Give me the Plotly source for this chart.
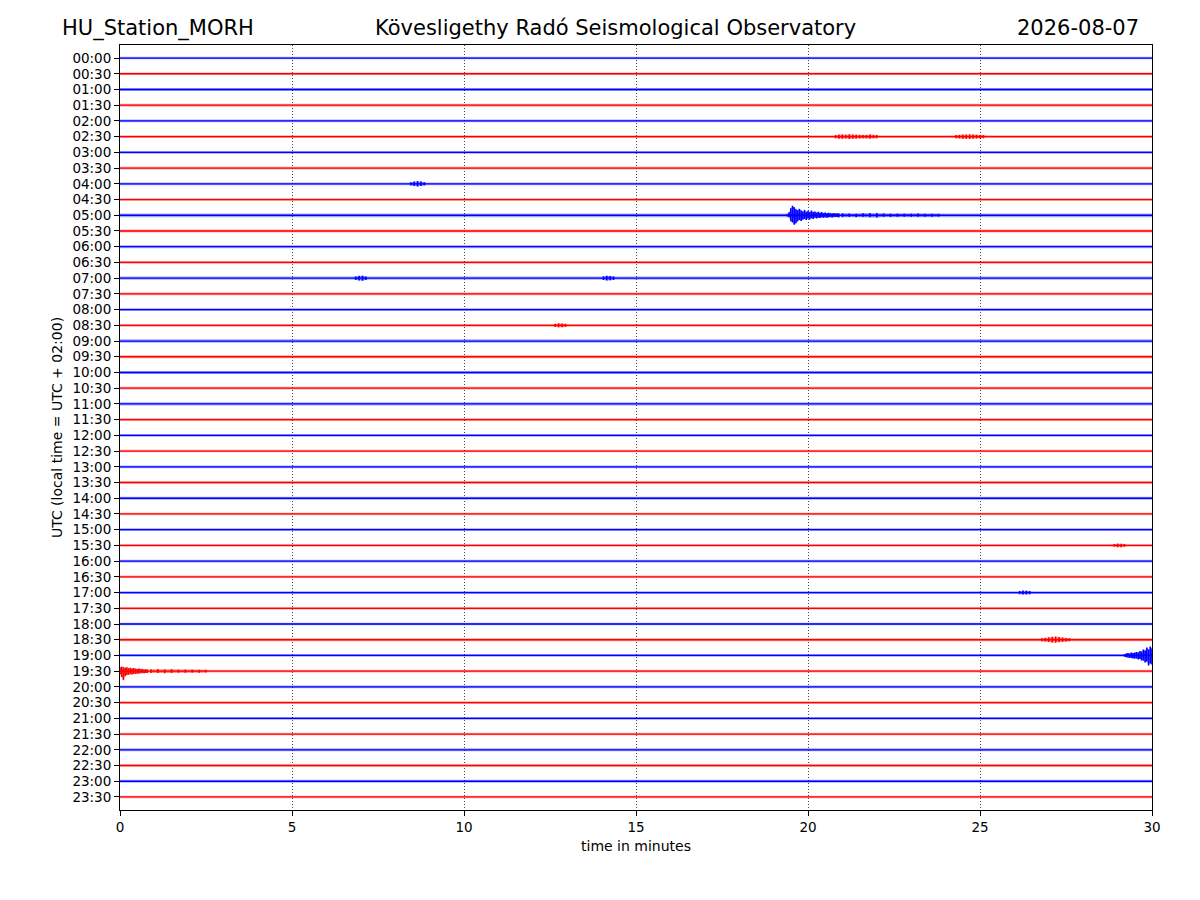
import plotly.graph_objects as go

# Helicorder of one day, 48 half-hour rows, 30 minutes per row
STATION = 'HU_Station_MORH'
OBSERVATORY = 'Kövesligethy Radó Seismological Observatory'
DAY = '2026-08-07'
ROW_MINUTES = 30
X_TICKS = [0, 5, 10, 15, 20, 25, 30]

ROW_LABELS = ['00:00', '00:30', '01:00', '01:30', '02:00', '02:30', '03:00', '03:30',
              '04:00', '04:30', '05:00', '05:30', '06:00', '06:30', '07:00', '07:30',
              '08:00', '08:30', '09:00', '09:30', '10:00', '10:30', '11:00', '11:30',
              '12:00', '12:30', '13:00', '13:30', '14:00', '14:30', '15:00', '15:30',
              '16:00', '16:30', '17:00', '17:30', '18:00', '18:30', '19:00', '19:30',
              '20:00', '20:30', '21:00', '21:30', '22:00', '22:30', '23:00', '23:30']

# background noise half-width of each row (in row spacings)
BASE_NOISE = [0.08, 0.08, 0.09, 0.09, 0.09, 0.09, 0.09, 0.09,
              0.09, 0.08, 0.12, 0.09, 0.10, 0.09, 0.10, 0.09,
              0.09, 0.09, 0.11, 0.10, 0.09, 0.09, 0.10, 0.09,
              0.09, 0.08, 0.09, 0.08, 0.09, 0.08, 0.09, 0.08,
              0.08, 0.08, 0.09, 0.08, 0.08, 0.09, 0.09, 0.09,
              0.09, 0.08, 0.09, 0.08, 0.09, 0.08, 0.09, 0.08]

# event peak amplitudes above / below the row (row spacings)
EV_0500_A_UP = [0.08, 0.19, 0.45, 0.60, 0.51, 0.38, 0.32, 0.41, 0.30, 0.24, 0.34, 0.22,
                0.28, 0.20, 0.30, 0.20, 0.24, 0.17, 0.23, 0.16, 0.20, 0.14, 0.17, 0.13,
                0.16, 0.13, 0.11, 0.14, 0.11, 0.13, 0.11]
EV_0500_A_DN = [0.08, 0.13, 0.38, 0.45, 0.60, 0.51, 0.38, 0.30, 0.36, 0.27, 0.23, 0.30,
                0.20, 0.27, 0.19, 0.23, 0.16, 0.20, 0.16, 0.17, 0.13, 0.16, 0.13, 0.16,
                0.13, 0.11, 0.14, 0.11, 0.11, 0.11, 0.12]
EV_0500_B_UP = [0.13, 0.11, 0.10, 0.13, 0.14, 0.15, 0.12, 0.10, 0.11, 0.10, 0.09, 0.11,
                0.09, 0.10, 0.09]
EV_0500_B_DN = [0.12, 0.10, 0.12, 0.10, 0.13, 0.14, 0.10, 0.11, 0.10, 0.09, 0.10, 0.09,
                0.10, 0.09, 0.09]

EV_1930_A_UP = [0.25, 0.29, 0.25, 0.22, 0.25, 0.19, 0.22, 0.17, 0.20, 0.16, 0.14, 0.17,
                0.13, 0.14, 0.11, 0.13, 0.11]
EV_1930_A_DN = [0.19, 0.38, 0.57, 0.32, 0.25, 0.23, 0.18, 0.21, 0.17, 0.17, 0.16, 0.14,
                0.13, 0.11, 0.13, 0.11, 0.11]
EV_1930_B_UP = [0.13, 0.14, 0.11, 0.13, 0.10, 0.11, 0.10, 0.09, 0.09]
EV_1930_B_DN = [0.12, 0.11, 0.13, 0.11, 0.10, 0.10, 0.09, 0.10, 0.09]

EV_1900_UP = [0.08, 0.13, 0.16, 0.13, 0.19, 0.16, 0.19, 0.22, 0.19, 0.29, 0.25, 0.38,
              0.32, 0.51, 0.38, 0.57, 0.45]
EV_1900_DN = [0.08, 0.11, 0.13, 0.16, 0.16, 0.19, 0.19, 0.19, 0.25, 0.22, 0.32, 0.32,
              0.45, 0.38, 0.64, 0.51, 0.57]

EV_1830_UP = [0.10, 0.12, 0.16, 0.19, 0.20, 0.18, 0.14, 0.11, 0.10]
EV_1830_DN = [0.09, 0.11, 0.14, 0.18, 0.19, 0.16, 0.13, 0.11, 0.09]

EV_0230_A = [0.10, 0.13, 0.14, 0.12, 0.15, 0.13, 0.12, 0.11, 0.10, 0.11, 0.13, 0.10, 0.10]
EV_0230_B = [0.10, 0.11, 0.13, 0.14, 0.15, 0.13, 0.12, 0.11, 0.10]
EV_0400 = [0.10, 0.14, 0.17, 0.14, 0.10]
EV_0700_A = [0.11, 0.15, 0.16, 0.11]
EV_0700_B = [0.11, 0.15, 0.14, 0.11]
EV_0830 = [0.10, 0.13, 0.12, 0.10]
EV_1700 = [0.10, 0.13, 0.12, 0.10]
EV_1530 = [0.09, 0.12, 0.11, 0.09]

# (row, start minute, step minute, upper, lower)
EVENTS = [
    (10, 19.40, 0.05, EV_0500_A_UP, EV_0500_A_DN),
    (10, 21.00, 0.20, EV_0500_B_UP, EV_0500_B_DN),
    (39, 0.00, 0.05, EV_1930_A_UP, EV_1930_A_DN),
    (39, 0.90, 0.20, EV_1930_B_UP, EV_1930_B_DN),
    (38, 29.20, 0.05, EV_1900_UP, EV_1900_DN),
    (37, 26.80, 0.10, EV_1830_UP, EV_1830_DN),
    (5, 20.80, 0.10, EV_0230_A, EV_0230_A),
    (5, 24.30, 0.10, EV_0230_B, EV_0230_B),
    (8, 8.45, 0.10, EV_0400, EV_0400),
    (14, 6.85, 0.10, EV_0700_A, EV_0700_A),
    (14, 14.05, 0.10, EV_0700_B, EV_0700_B),
    (17, 12.65, 0.10, EV_0830, EV_0830),
    (34, 26.15, 0.10, EV_1700, EV_1700),
    (31, 28.90, 0.10, EV_1530, EV_1530),
]

BLUE = 'rgb(0,0,255)'
RED = 'rgb(255,0,0)'
BLUE_FUZZ = 'rgba(0,0,255,0.35)'
RED_FUZZ = 'rgba(255,0,0,0.35)'

fig = go.Figure()

for i, b in enumerate(BASE_NOISE):
    col = BLUE if i % 2 == 0 else RED
    fuzz = BLUE_FUZZ if i % 2 == 0 else RED_FUZZ
    # noise band
    fig.add_trace(go.Scatter(
        x=[0, ROW_MINUTES, ROW_MINUTES, 0, 0],
        y=[i - b, i - b, i + b, i + b, i - b],
        mode='lines', fill='toself', fillcolor=fuzz,
        line=dict(width=0), hoverinfo='skip'))
    # trace core
    fig.add_trace(go.Scatter(
        x=[0, ROW_MINUTES], y=[i, i], mode='lines',
        line=dict(color=col, width=1.3),
        hovertemplate=ROW_LABELS[i] + '<extra></extra>'))

for row, t0, dt, up, dn in EVENTS:
    col = BLUE if row % 2 == 0 else RED
    fuzz = BLUE_FUZZ if row % 2 == 0 else RED_FUZZ
    ts = [t0 + k * dt for k in range(len(up))]
    # faint envelope behind the swings
    fig.add_trace(go.Scatter(
        x=ts + ts[::-1] + [ts[0]],
        y=[row - a for a in up] + [row + a for a in dn][::-1] + [row - up[0]],
        mode='lines', fill='toself', fillcolor=fuzz,
        line=dict(width=0), hoverinfo='skip'))
    # one vertical swing per sample
    xs, ys = [], []
    for t, a, c in zip(ts, up, dn):
        xs += [t, t, None]
        ys += [row - a, row + c, None]
    fig.add_trace(go.Scatter(
        x=xs, y=ys, mode='lines',
        line=dict(color=col, width=1.6), hoverinfo='skip'))

n = len(ROW_LABELS)
# page body adds an 8px offset, so the figure is 8px smaller
fig.update_layout(
    width=1192, height=892,
    margin=dict(l=112, r=48, t=37, b=90),
    plot_bgcolor='white', paper_bgcolor='white',
    showlegend=False,
    font=dict(family='DejaVu Sans', size=13.5, color='black'),
    xaxis=dict(
        range=[0, ROW_MINUTES], tickvals=X_TICKS,
        showgrid=True, gridcolor='#444444', griddash='1px,2px', gridwidth=1,
        showline=True, mirror=True, linecolor='black', linewidth=1,
        ticks='outside', ticklen=5, tickcolor='black', zeroline=False,
        title=dict(text='time in minutes', font=dict(size=14), standoff=6),
    ),
    yaxis=dict(
        range=[n - 1 + 0.83, -0.83], tickvals=list(range(n)), ticktext=ROW_LABELS,
        showgrid=False, zeroline=False,
        showline=True, mirror=True, linecolor='black', linewidth=1,
        ticks='outside', ticklen=5, tickcolor='black',
        title=dict(text='UTC (local time = UTC + 02:00)', font=dict(size=14), standoff=6),
    ),
)

# header texts
for txt, xp, anchor in [(STATION, -0.058, 'left'),
                        (OBSERVATORY, 0.4797, 'center'),
                        (DAY, 0.9893, 'right')]:
    fig.add_annotation(text=txt, x=xp, y=1.022, xref='paper', yref='paper',
                       xanchor=anchor, yanchor='middle', showarrow=False,
                       font=dict(size=21, family='DejaVu Sans', color='black'))

fig.write_html('out.html')
